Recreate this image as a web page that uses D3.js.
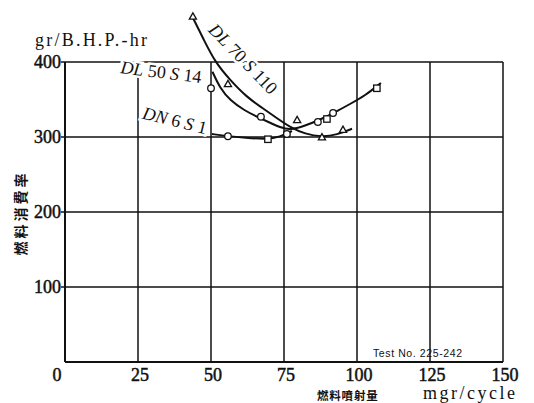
<!DOCTYPE html>
<html>
<head>
<meta charset="utf-8">
<script src="https://cdn.jsdelivr.net/npm/d3@7"></script>
<style>
  body { margin: 0; background: #fff; }
  svg { display: block; }
  .num { font-family: "Liberation Serif", "DejaVu Serif", serif; font-size: 18px; fill: #111; }
  .tick { stroke: #111; stroke-width: 0.5px; }
  .cjk { font-family: "Noto Sans CJK JP", "Noto Sans CJK SC", sans-serif; font-weight: 700; fill: #111; }
</style>
</head>
<body>
<div id="chart"></div>
<script>
// axis ticks
var xTicks = [0, 25, 50, 75, 100, 125, 150];
var yTicks = [100, 200, 300, 400];

// curves [mgr/cycle, gr/B.H.P.-hr]
var dl70 = [[43.8,459],[47.6,429],[51.4,400],[56.5,376],[62.3,353],[67.5,339],[72.6,325],
            [77.1,313],[82.2,304],[88,300],[93.2,303],[98.3,311]];
var dl50 = [[50.5,387],[53.1,365],[56.5,349],[61.6,335],[65.8,327],[70.2,319],[73.6,313],
            [77.1,309],[82.2,315],[87.3,323],[92.5,333],[97.6,344],[102.7,355],[108.2,372]];
var dn6  = [[50.3,304],[55.8,301],[61.6,299],[69.2,297],[73.6,300],[77.7,308]];

// measured points
var triPts = [[43.8,460],[55.8,370],[79.5,322],[95.2,309],[88,299]];
var circPts = [[50,365],[67.1,327],[86.6,320],[91.8,332],[55.8,301],[76,304]];
var sqPts = [[89.7,324],[106.8,365],[69.5,297]];

var labels = [
  { parts: [["DL", true], [" 70 ", false], ["S", true], [" 110", false]], x: 61, y: 404, rot: 46, size: 17 },
  { parts: [["DL", true], [" 50 ", false], ["S", true], [" 14", false]], x: 32.9, y: 386.5, rot: 7, size: 16 },
  { parts: [["DN", true], [" 6 ", false], ["S", true], [" 1", false]], x: 37.6, y: 322, rot: 14, size: 16 }
];

var W = 534, H = 403;
var svg = d3.select("#chart").append("svg").attr("width", W).attr("height", H);

var x = d3.scaleLinear().domain([0, 150]).range([65, 503]);
var y = d3.scaleLinear().domain([0, 400]).range([362, 62]);

// grid
var g = svg.append("g").attr("stroke", "#111").attr("stroke-width", 1.5);
g.selectAll(".hl").data(yTicks).enter().append("line")
  .attr("x1", x(0) - 4).attr("x2", x(150))
  .attr("y1", d => y(d)).attr("y2", d => y(d));
g.selectAll(".vl").data(xTicks.slice(1)).enter().append("line")
  .attr("x1", d => x(d)).attr("x2", d => x(d))
  .attr("y1", y(400)).attr("y2", y(0));
g.append("line").attr("x1", x(0)).attr("x2", x(0)).attr("y1", y(400)).attr("y2", y(0)).attr("stroke-width", 2);
g.append("line").attr("x1", x(0)).attr("x2", x(150)).attr("y1", y(0)).attr("y2", y(0)).attr("stroke-width", 2);

// tick labels
svg.selectAll(".yt").data(yTicks).enter().append("text")
  .attr("class", "num tick").attr("x", x(0) - 4).attr("y", d => y(d) + 6)
  .attr("text-anchor", "end").text(d => d);
svg.selectAll(".xt").data(xTicks).enter().append("text")
  .attr("class", "num tick").attr("font-size", 17)
  .attr("x", d => x(d) + (d === 0 ? -8 : 2)).attr("y", 381)
  .attr("text-anchor", "middle").text(d => d);

// axis titles
svg.append("text").attr("class", "num").attr("x", 35).attr("y", 46)
  .attr("font-size", 17).attr("textLength", 112).attr("lengthAdjust", "spacing")
  .text("gr/B.H.P.-hr");
svg.append("text").attr("class", "cjk")
  .attr("transform", "translate(26,213) rotate(-90)").attr("text-anchor", "middle")
  .attr("font-size", 14).attr("letter-spacing", 3).text("燃料消費率");
svg.append("text").attr("class", "cjk").attr("font-size", 11.5)
  .attr("x", 317).attr("y", 400).attr("letter-spacing", 0.8).text("燃料噴射量");
svg.append("text").attr("class", "num").attr("font-size", 14)
  .attr("x", 423).attr("y", 399).attr("textLength", 92).attr("lengthAdjust", "spacing")
  .text("mgr/cycle");
svg.append("text").attr("x", 373).attr("y", 357)
  .attr("font-family", "Liberation Sans, Arial, sans-serif").attr("font-size", 10.5)
  .attr("letter-spacing", 0.6).attr("fill", "#111").text("Test No. 225-242");

// curve labels (white halo breaks the grid behind them)
labels.forEach(l => {
  var t = svg.append("text")
    .attr("class", "num").attr("font-size", l.size)
    .attr("text-anchor", "middle").attr("dominant-baseline", "central")
    .attr("transform", `translate(${x(l.x)},${y(l.y)}) rotate(${l.rot})`)
    .attr("stroke", "#fff").attr("stroke-width", 5).attr("paint-order", "stroke");
  l.parts.forEach(p => {
    t.append("tspan").attr("font-style", p[1] ? "italic" : "normal").text(p[0]);
  });
});

// curves
var line = d3.line().x(d => x(d[0])).y(d => y(d[1])).curve(d3.curveBasis);
[dl70, dl50, dn6].forEach(s => {
  svg.append("path").datum(s).attr("d", line)
    .attr("fill", "none").attr("stroke", "#111").attr("stroke-width", 2);
});

// markers
svg.selectAll(".tri").data(triPts).enter().append("path")
  .attr("d", d3.symbol().type(d3.symbolTriangle).size(22))
  .attr("transform", d => `translate(${x(d[0])},${y(d[1])})`)
  .attr("fill", "#fff").attr("stroke", "#111").attr("stroke-width", 1.3);
svg.selectAll(".circ").data(circPts).enter().append("circle")
  .attr("cx", d => x(d[0])).attr("cy", d => y(d[1])).attr("r", 3.3)
  .attr("fill", "#fff").attr("stroke", "#111").attr("stroke-width", 1.3);
svg.selectAll(".sq").data(sqPts).enter().append("rect")
  .attr("x", d => x(d[0]) - 3.2).attr("y", d => y(d[1]) - 3.2)
  .attr("width", 6.4).attr("height", 6.4)
  .attr("fill", "#fff").attr("stroke", "#111").attr("stroke-width", 1.3);
</script>
</body>
</html>
